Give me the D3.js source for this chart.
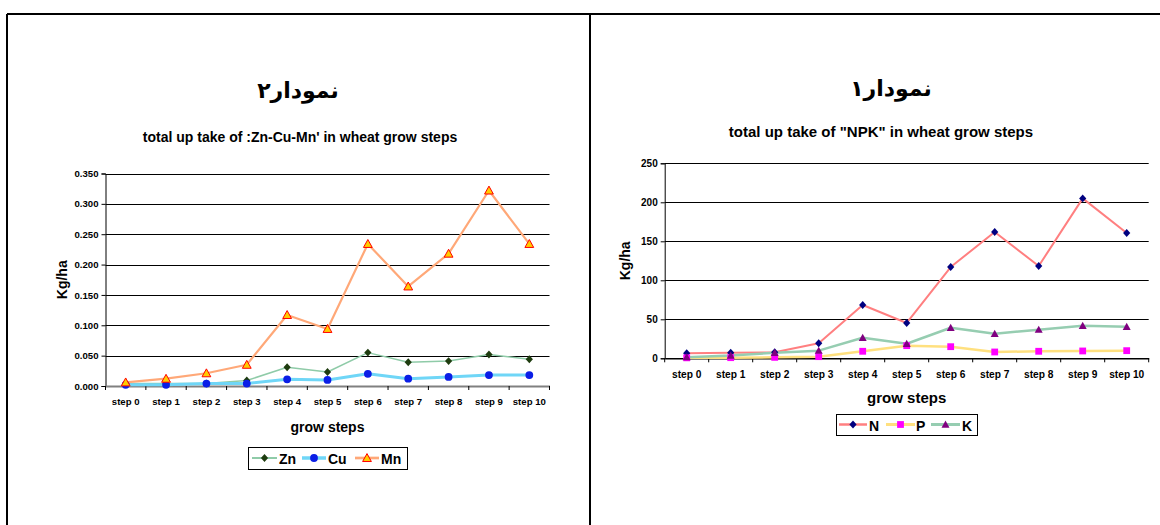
<!DOCTYPE html>
<html>
<head>
<meta charset="utf-8">
<script src="https://cdn.jsdelivr.net/npm/d3@7"></script>
<style>
  html, body { margin: 0; padding: 0; background: #fff; }
  svg { display: block; }
  text { font-family: "Liberation Sans", Arial, sans-serif; font-weight: bold; fill: #000; }
  .fa { font-family: "DejaVu Sans", "Noto Sans", sans-serif; }
</style>
</head>
<body>
<svg id="chart" width="1160" height="525"></svg>
<script>
// Growth steps shared by both charts
const steps = ["step 0", "step 1", "step 2", "step 3", "step 4", "step 5",
               "step 6", "step 7", "step 8", "step 9", "step 10"];

// Micronutrient uptake (Kg/ha)
const znValues = [0.004, 0.004, 0.004, 0.009, 0.031, 0.023, 0.055, 0.039, 0.041, 0.052, 0.044];
const cuValues = [0.002, 0.002, 0.004, 0.004, 0.011, 0.010, 0.020, 0.012, 0.015, 0.018, 0.018];
const mnValues = [0.006, 0.012, 0.021, 0.035, 0.117, 0.094, 0.234, 0.164, 0.218, 0.322, 0.234];
const microTicks = [0, 0.05, 0.10, 0.15, 0.20, 0.25, 0.30, 0.35];

// Macronutrient uptake (Kg/ha)
const nValues = [6.4, 7.2, 7.7, 19.2, 68.3, 45.3, 117, 162, 118.3, 205, 160.6];
const pValues = [0.6, 0.8, 1.2, 2.1, 9.0, 16.2, 14.9, 8.1, 9.0, 9.4, 9.8];
const kValues = [1.5, 3.5, 7.2, 9.8, 26.4, 18.7, 39.2, 31.5, 36.7, 41.8, 40.5];
const npkTicks = [0, 50, 100, 150, 200, 250];

const svg = d3.select("#chart");

// Panel frames
const frame = svg.append("g").attr("stroke", "#000").attr("stroke-width", 2).attr("fill", "none");
frame.append("line").attr("x1", 7).attr("x2", 1160).attr("y1", 14).attr("y2", 14);
frame.append("line").attr("x1", 7).attr("x2", 7).attr("y1", 14).attr("y2", 525);
frame.append("line").attr("x1", 590).attr("x2", 590).attr("y1", 14).attr("y2", 525);

// Marker drawing helpers
function drawMarker(g, shape, x, y, s) {
  const m = g.append("path");
  if (shape === "diamond") {
    m.attr("d", `M${x},${y - s.r * 1.1}L${x + s.r},${y}L${x},${y + s.r * 1.1}L${x - s.r},${y}Z`);
  } else if (shape === "circle") {
    m.attr("d", d3.symbol(d3.symbolCircle, Math.PI * s.r * s.r)()).attr("transform", `translate(${x},${y})`);
  } else if (shape === "triangle") {
    m.attr("d", `M${x},${y - s.r}L${x + s.r},${y + s.r * 0.8}L${x - s.r},${y + s.r * 0.8}Z`);
  } else if (shape === "square") {
    m.attr("d", `M${x - s.r},${y - s.r}h${2 * s.r}v${2 * s.r}h${-2 * s.r}Z`);
  }
  m.attr("fill", s.fill).attr("stroke", s.stroke || "none").attr("stroke-width", s.sw || 0);
}

function drawChart(cfg) {
  const g = svg.append("g");
  const x = d3.scaleBand().domain(steps).range([cfg.left, cfg.right]).padding(0);
  const y = d3.scaleLinear().domain([0, cfg.ticks[cfg.ticks.length - 1]]).range([cfg.bottom, cfg.top]);
  const cx = d => x(d) + x.bandwidth() / 2;

  // Titles
  g.append("text").attr("class", "fa").attr("x", cfg.titleX).attr("y", cfg.titleY)
    .attr("text-anchor", "middle").attr("dominant-baseline", "central")
    .attr("font-size", cfg.titleSize).attr("direction", "rtl").style("unicode-bidi", "plaintext")
    .text(cfg.title);
  g.append("text").attr("x", cfg.subX).attr("y", cfg.subY)
    .attr("text-anchor", "middle").attr("dominant-baseline", "central")
    .attr("font-size", cfg.subSize).text(cfg.subtitle);

  // Horizontal gridlines
  g.append("g").selectAll("line").data(cfg.ticks.slice(1)).join("line")
    .attr("x1", cfg.left).attr("x2", cfg.right)
    .attr("y1", d => Math.round(y(d)) + 0.5).attr("y2", d => Math.round(y(d)) + 0.5)
    .attr("stroke", "#000").attr("stroke-width", 1);

  // Y axis
  const yAxis = g.append("g").attr("transform", `translate(${cfg.left},0)`)
    .call(d3.axisLeft(y).tickValues(cfg.ticks).tickFormat(cfg.fmt).tickSize(4).tickPadding(3));
  yAxis.select(".domain").attr("stroke", "#000");
  yAxis.selectAll("text").attr("font-size", cfg.tickSize).attr("font-family", "Liberation Sans, Arial").attr("font-weight", "bold");

  // X axis: labels at category centres, ticks at category boundaries
  const xAxis = g.append("g").attr("transform", `translate(0,${cfg.bottom})`)
    .call(d3.axisBottom(x).tickSize(0).tickPadding(cfg.xPad));
  xAxis.select(".domain").attr("stroke", cfg.xAxisColor).attr("stroke-width", cfg.xAxisWidth);
  xAxis.selectAll("text").attr("font-size", cfg.xTickSize).attr("font-family", "Liberation Sans, Arial").attr("font-weight", "bold");
  const bounds = steps.map(s => x(s)).concat([cfg.right]);
  g.append("g").selectAll("line").data(bounds).join("line")
    .attr("x1", d => d).attr("x2", d => d)
    .attr("y1", cfg.bottom).attr("y2", cfg.bottom + 4)
    .attr("stroke", "#000").attr("stroke-width", 1);

  // Axis titles
  g.append("text").attr("transform", `translate(${cfg.yLabelX},${(cfg.top + cfg.bottom) / 2}) rotate(-90)`)
    .attr("text-anchor", "middle").attr("dominant-baseline", "central")
    .attr("font-size", cfg.yLabelSize).text("Kg/ha");
  g.append("text").attr("x", (cfg.left + cfg.right) / 2).attr("y", cfg.xTitleY)
    .attr("text-anchor", "middle").attr("dominant-baseline", "central")
    .attr("font-size", cfg.xTitleSize).text("grow steps");

  // Series lines and markers
  cfg.series.forEach(s => {
    const line = d3.line().x((d, i) => cx(steps[i])).y(d => y(d));
    g.append("path").datum(s.values).attr("d", line)
      .attr("fill", "none").attr("stroke", s.color).attr("stroke-width", s.width)
      .attr("stroke-linejoin", "round");
  });
  cfg.series.forEach(s => {
    const mg = g.append("g");
    s.values.forEach((v, i) => drawMarker(mg, s.shape, cx(steps[i]), y(v), s.marker));
  });

  // Legend
  const L = cfg.legend;
  const lg = g.append("g");
  lg.append("rect").attr("x", L.x + 0.5).attr("y", L.y + 0.5).attr("width", L.w).attr("height", L.h)
    .attr("fill", "#fff").attr("stroke", "#000").attr("stroke-width", 1);
  const ly = L.y + L.h / 2;
  cfg.series.forEach((s, i) => {
    const e = L.entries[i];
    lg.append("line").attr("x1", e.x1).attr("x2", e.x2).attr("y1", ly).attr("y2", ly)
      .attr("stroke", s.color).attr("stroke-width", s.width + 0.5);
    drawMarker(lg, s.shape, (e.x1 + e.x2) / 2, ly, s.marker);
    lg.append("text").attr("x", e.tx).attr("y", ly + 1).attr("dominant-baseline", "central")
      .attr("font-size", 14).text(s.name);
  });
}

// Chart 2: Zn, Cu, Mn
drawChart({
  title: "نمودار۲", titleX: 298, titleY: 90, titleSize: 22,
  subtitle: "total up take of :Zn-Cu-Mn' in wheat grow steps", subX: 300, subY: 137, subSize: 14,
  left: 105.5, right: 549.5, top: 173.5, bottom: 386,
  ticks: microTicks, fmt: d3.format(".3f"), tickSize: 9.6,
  xTickSize: 9.6, xPad: 12, xAxisColor: "#808080", xAxisWidth: 2,
  yLabelX: 62, yLabelSize: 14, xTitleY: 427, xTitleSize: 14,
  series: [
    { name: "Zn", values: znValues, color: "#8fcba8", width: 1.5, shape: "diamond",
      marker: { r: 3.6, fill: "#1e3c0f" } },
    { name: "Cu", values: cuValues, color: "#6fd6f7", width: 3, shape: "circle",
      marker: { r: 3.9, fill: "#0a1ee6" } },
    { name: "Mn", values: mnValues, color: "#ffa878", width: 2.2, shape: "triangle",
      marker: { r: 4.4, fill: "#ffcc00", stroke: "#ff0000", sw: 1 } }
  ],
  legend: { x: 248, y: 447, w: 159, h: 22,
    entries: [ { x1: 252, x2: 277, tx: 279 }, { x1: 302, x2: 326, tx: 328 }, { x1: 355, x2: 379, tx: 381 } ] }
});

// Chart 1: N, P, K
drawChart({
  title: "نمودار۱", titleX: 891, titleY: 88, titleSize: 22,
  subtitle: "total up take of \"NPK\" in wheat grow steps", subX: 881, subY: 131, subSize: 15,
  left: 664.7, right: 1148.7, top: 163.3, bottom: 358.3,
  ticks: npkTicks, fmt: d3.format("d"), tickSize: 10,
  xTickSize: 10.2, xPad: 12, xAxisColor: "#000", xAxisWidth: 1.5,
  yLabelX: 625, yLabelSize: 14, xTitleY: 397, xTitleSize: 15,
  series: [
    { name: "N", values: nValues, color: "#ff7f80", width: 2, shape: "diamond",
      marker: { r: 3.6, fill: "#000080" } },
    { name: "P", values: pValues, color: "#ffe07f", width: 2.5, shape: "square",
      marker: { r: 3.4, fill: "#ff00ff" } },
    { name: "K", values: kValues, color: "#96cdb1", width: 2.5, shape: "triangle",
      marker: { r: 4, fill: "#800080" } }
  ],
  legend: { x: 836, y: 414, w: 141, h: 21,
    entries: [ { x1: 839, x2: 867, tx: 869 }, { x1: 886, x2: 915, tx: 916 }, { x1: 931, x2: 960, tx: 962 } ] }
});
</script>
</body>
</html>
